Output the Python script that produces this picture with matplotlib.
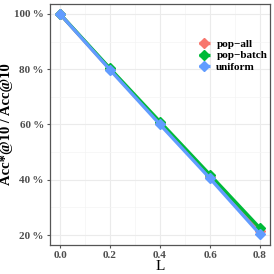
import matplotlib
matplotlib.use("Agg")
import matplotlib.pyplot as plt
from matplotlib.ticker import FuncFormatter

L = [0.0, 0.2, 0.4, 0.6, 0.8]
pop_all = [100, 80.0, 60.5, 41.0, 21.5]
pop_batch = [100, 80.3, 61.0, 41.8, 22.5]
uniform = [100, 79.8, 60.0, 40.5, 20.3]
series = [("pop\u2212all", pop_all, "#F8766D"),
          ("pop\u2212batch", pop_batch, "#00BA38"),
          ("uniform", uniform, "#619CFF")]
yticks = [20, 40, 60, 80, 100]
xticks = [0.0, 0.2, 0.4, 0.6, 0.8]

plt.rcParams['font.family'] = ['Liberation Serif', 'DejaVu Serif']

fig = plt.figure(figsize=(2.74, 2.74), dpi=100)
ax = fig.add_axes([50/274, 29/274, 220/274, 241/274])

for name, vals, col in series:
    ax.plot(L, vals, color=col, lw=2.4, marker='D', ms=5.5, label=name, solid_capstyle='butt')

ax.set_xlim(-0.04, 0.84)
ax.set_ylim(16.4, 103.6)
ax.set_xticks(xticks)
ax.set_yticks(yticks)
ax.set_xticks([0.1, 0.3, 0.5, 0.7], minor=True)
ax.set_yticks([30, 50, 70, 90], minor=True)
ax.xaxis.set_major_formatter(FuncFormatter(lambda v, p: f"{v:.1f}"))
ax.yaxis.set_major_formatter(FuncFormatter(lambda v, p: f"{int(round(v))}\u2009%"))
ax.grid(True, which='major', color='#EBEBEB', lw=0.8)
ax.grid(True, which='minor', color='#F4F4F4', lw=0.5)
ax.set_axisbelow(True)
for s in ax.spines.values():
    s.set_color('#555555')
    s.set_linewidth(0.9)
ax.tick_params(which='major', length=2.5, color='#555555', labelsize=8, labelcolor='#4D4D4D', pad=2)
ax.tick_params(which='minor', length=0)
for t in ax.get_xticklabels() + ax.get_yticklabels():
    t.set_fontweight('bold')

ax.set_ylabel("Acc*@10 / Acc@10", fontsize=10.5, fontweight='bold')
ax.yaxis.set_label_coords(-0.17, 0.5)
ax.set_xlabel("L", fontsize=11, labelpad=0)

leg = ax.legend(loc='center left', bbox_to_anchor=(0.655, 0.786), frameon=False,
                prop={'weight': 'bold', 'size': 8}, handlelength=1.0,
                handletextpad=0.6, labelspacing=0.15, borderaxespad=0)

fig.savefig("out.png", dpi=100)
